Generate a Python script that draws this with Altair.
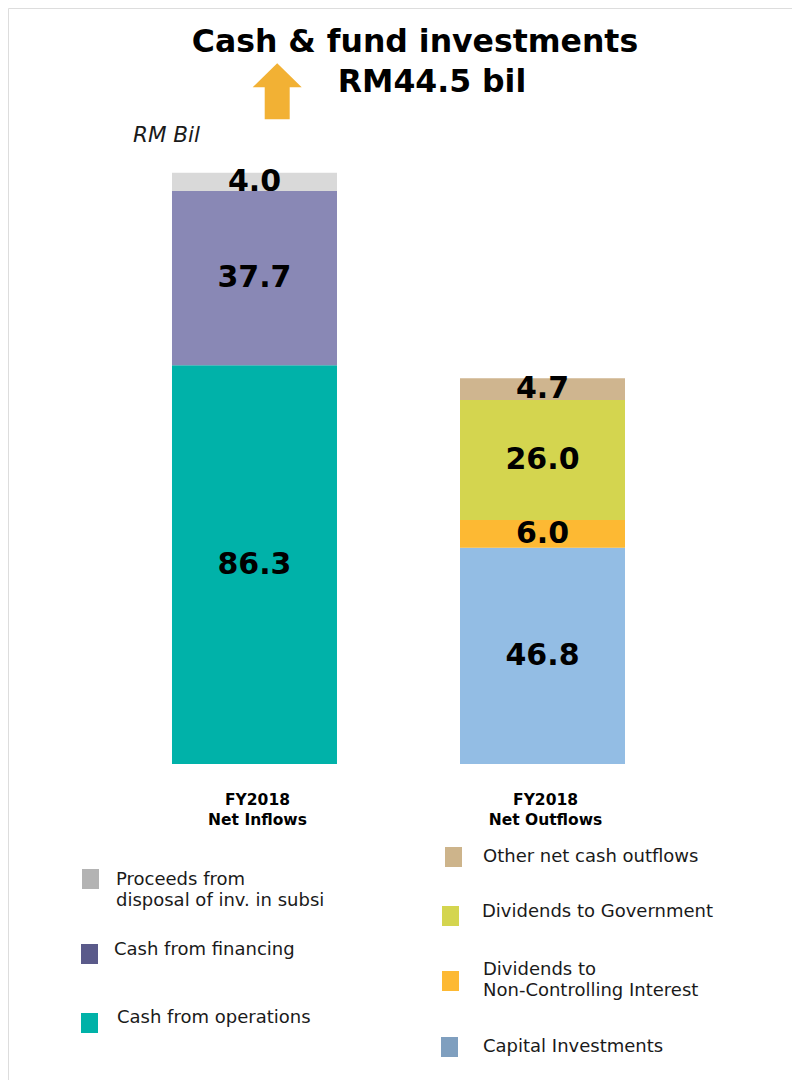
import altair as alt
import pandas as pd

# ---------------- data ----------------
groups = ["Net Inflows", "Net Outflows"]
group_labels = ["FY2018\nNet Inflows", "FY2018\nNet Outflows"]

inflow_segments = ["Cash from operations", "Cash from financing",
                   "Proceeds from disposal of inv. in subsi"]
inflow_values = [86.3, 37.7, 4.0]
inflow_bar_colors = ["#00b2a9", "#8988b5", "#d9d9d9"]
inflow_legend_colors = ["#00b2a8", "#5a5a8a", "#b3b3b3"]

outflow_segments = ["Capital Investments", "Dividends to Non-Controlling Interest",
                    "Dividends to Government", "Other net cash outflows"]
outflow_values = [46.8, 6.0, 26.0, 4.7]
outflow_bar_colors = ["#93bde4", "#fdb933", "#d4d54f", "#cfb58f"]
outflow_legend_colors = ["#7f9fbf", "#fdb933", "#d4d54f", "#cdb48b"]

# legend texts (display order, top to bottom)
left_legend_text = ["Proceeds from\ndisposal of inv. in subsi", "Cash from financing",
                    "Cash from operations"]
right_legend_text = ["Other net cash outflows", "Dividends to Government",
                     "Dividends to\nNon-Controlling Interest", "Capital Investments"]

title_line1 = "Cash & fund investments"
title_line2 = "RM44.5 bil"
unit_label = "RM Bil"

# ---------------- tables ----------------
rows = []
for i, (s, v) in enumerate(zip(inflow_segments, inflow_values)):
    rows.append({"group": groups[0], "segment": s, "value": v, "order": i})
for i, (s, v) in enumerate(zip(outflow_segments, outflow_values)):
    rows.append({"group": groups[1], "segment": s, "value": v, "order": i})
bars_df = pd.DataFrame(rows)

seg_domain = inflow_segments + outflow_segments
seg_range = inflow_bar_colors + outflow_bar_colors

cat_df = pd.DataFrame({"group": groups, "label": group_labels})

# layout (view coordinates = page - 8)
OFF = 8
x_scale = alt.Scale(domain=groups, range=[0, 781], paddingInner=0.4271, paddingOuter=0.5694)
y_scale = alt.Scale(domain=[0, 128], range=[764 - OFF, 764 - OFF - 4.62 * 128], zero=True, nice=False)

# legend layout
left_swatch = [(82, 869), (81, 944), (81, 1013)]
left_text = [(116, 885), (114, 955), (117, 1023)]
right_swatch = [(445, 847), (442, 906), (442, 971), (441, 1037)]
right_text = [(483, 862), (482, 917), (483, 975), (483, 1052)]

leg_rows = []
for lbl, col, (sx, sy), (tx, ty) in zip(left_legend_text, inflow_legend_colors[::-1], left_swatch, left_text):
    leg_rows.append({"label": lbl, "color": col, "sx": sx - OFF, "sy": sy - OFF,
                     "sx2": sx - OFF + 17, "sy2": sy - OFF + 20, "tx": tx - OFF, "ty": ty - OFF})
for lbl, col, (sx, sy), (tx, ty) in zip(right_legend_text, outflow_legend_colors[::-1], right_swatch, right_text):
    leg_rows.append({"label": lbl, "color": col, "sx": sx - OFF, "sy": sy - OFF,
                     "sx2": sx - OFF + 17, "sy2": sy - OFF + 20, "tx": tx - OFF, "ty": ty - OFF})
leg_df = pd.DataFrame(leg_rows)

FONT = "DejaVu Sans"

stacked = alt.Chart(bars_df).transform_stack(
    stack="value", groupby=["group"], as_=["y0", "y1"],
    sort=[alt.SortField("order", order="ascending")]
).transform_calculate(mid="(datum.y0 + datum.y1) / 2")

bars = stacked.mark_bar(cornerRadius=0).encode(
    x=alt.X("group:N", scale=x_scale, axis=None),
    y=alt.Y("y0:Q", scale=y_scale, axis=None),
    y2="y1:Q",
    color=alt.Color("segment:N", scale=alt.Scale(domain=seg_domain, range=seg_range), legend=None),
)

labels = stacked.mark_text(font=FONT, fontWeight="bold", fontSize=30, color="black",
                           baseline="middle", align="center").encode(
    x=alt.X("group:N", scale=x_scale, axis=None, bandPosition=0.5),
    y=alt.Y("mid:Q", scale=y_scale, axis=None),
    text=alt.Text("value:Q", format=".1f"),
)

cats = alt.Chart(cat_df).mark_text(font=FONT, fontWeight="bold", fontSize=15.5, color="black",
                                   lineBreak="\n", lineHeight=20, align="center",
                                   baseline="alphabetic", dx=3).encode(
    x=alt.X("group:N", scale=x_scale, axis=None, bandPosition=0.5),
    y=alt.value(805 - OFF),
    text="label:N",
)

swatches = alt.Chart(leg_df).mark_rect().encode(
    x=alt.X("sx:Q", scale=None), x2="sx2:Q",
    y=alt.Y("sy:Q", scale=None), y2="sy2:Q",
    color=alt.Color("color:N", scale=None),
)
leg_text = alt.Chart(leg_df).mark_text(font=FONT, fontSize=18, color="#1a1a1a", align="left",
                                       baseline="alphabetic", lineBreak="\n", lineHeight=21).encode(
    x=alt.X("tx:Q", scale=None),
    y=alt.Y("ty:Q", scale=None),
    text="label:N",
)

one = pd.DataFrame({"k": [0]})
t1 = alt.Chart(one).mark_text(text=title_line1, font=FONT, fontWeight="bold", fontSize=31.5,
                              color="black", align="center", baseline="alphabetic").encode(
    x=alt.value(415 - OFF), y=alt.value(52 - OFF))
t2 = alt.Chart(one).mark_text(text=title_line2, font=FONT, fontWeight="bold", fontSize=31.5,
                              color="black", align="center", baseline="alphabetic").encode(
    x=alt.value(432 - OFF), y=alt.value(92 - OFF))
unit = alt.Chart(one).mark_text(text=unit_label, font=FONT, fontStyle="italic", fontSize=21.5,
                                color="#1a1a1a", align="left", baseline="alphabetic").encode(
    x=alt.value(133 - OFF), y=alt.value(142 - OFF))

arrow_path = "M0,-1 L0.875,-0.143 L0.446,-0.143 L0.446,1 L-0.446,1 L-0.446,-0.143 L-0.875,-0.143 Z"
arrow = alt.Chart(one).mark_point(shape=arrow_path, filled=True, color="#f2b134",
                                  opacity=1, size=3136, strokeWidth=0).encode(
    x=alt.value(277.2 - OFF), y=alt.value(91.3 - OFF))

chart = alt.layer(bars, labels, cats, swatches, leg_text, t1, t2, unit, arrow).properties(
    width=784, height=1072, autosize="none", padding=0
).configure_view(stroke="#dcdcdc", strokeWidth=5).configure(background="white")

chart.save("out.html", embed_options={"renderer": "svg", "actions": False})
